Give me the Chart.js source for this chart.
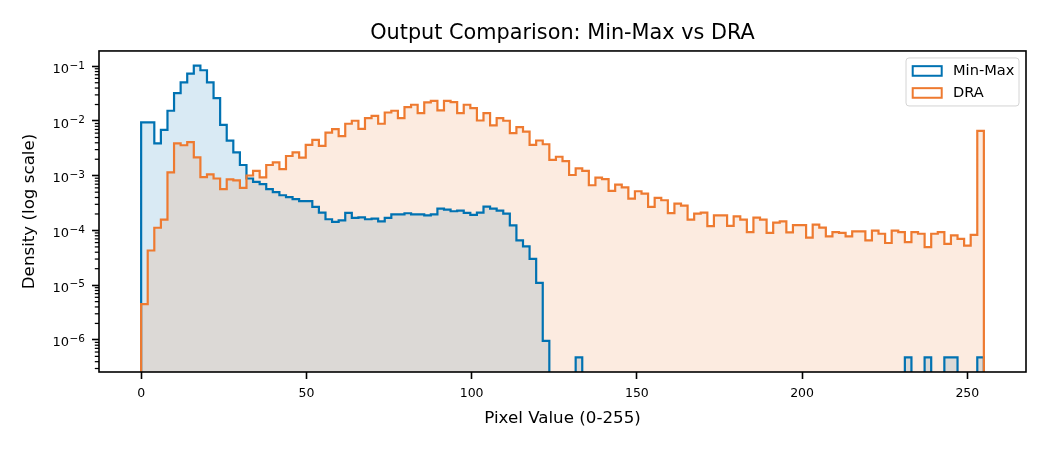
<!DOCTYPE html>
<html>
<head>
<meta charset="utf-8">
<script src="https://cdn.jsdelivr.net/npm/chart.js@4.4.1/dist/chart.umd.min.js"></script>
<style>
html, body { margin: 0; padding: 0; background: #ffffff; }
#wrap { width: 1050px; height: 450px; }
</style>
</head>
<body>
<div id="wrap"><canvas id="c" width="1050" height="450"></canvas></div>
<script>
// ---------------- data ----------------
const binCount = 128;          // histogram bins over the pixel range
const pixelMax = 255;          // range 0..255
const seriesLabels = ['Min-Max', 'DRA'];
const xTickValues = [0, 50, 100, 150, 200, 250];
const yTickExponents = [-6, -5, -4, -3, -2, -1];

// density per bin, Min-Max output
const minMaxDensity = [
  9.4e-3, 9.4e-3, 3.9e-3, 6.9e-3, 1.54e-2, 3.24e-2, 5.09e-2, 7.34e-2, 1.03e-1, 8.46e-2,
  5.09e-2, 2.62e-2, 8.5e-3, 4.38e-3, 2.68e-3, 1.57e-3, 8.9e-4, 7.7e-4, 7.0e-4, 5.7e-4,
  5.0e-4, 4.4e-4, 4.05e-4, 3.72e-4, 3.42e-4, 3.42e-4, 2.69e-4, 2.12e-4, 1.6e-4, 1.43e-4,
  1.53e-4, 2.09e-4, 1.69e-4, 1.74e-4, 1.6e-4, 1.64e-4, 1.47e-4, 1.69e-4, 1.97e-4, 1.97e-4,
  2.06e-4, 1.97e-4, 1.97e-4, 1.89e-4, 1.97e-4, 2.51e-4, 2.40e-4, 2.24e-4, 2.31e-4, 2.09e-4,
  1.92e-4, 2.12e-4, 2.73e-4, 2.51e-4, 2.31e-4, 2.03e-4, 1.24e-4, 6.6e-5, 5.1e-5, 3.03e-5,
  1.1e-5, 9.57e-7, 0, 0, 0, 0, 4.79e-7, 0, 0, 0,
  0, 0, 0, 0, 0, 0, 0, 0, 0, 0,
  0, 0, 0, 0, 0, 0, 0, 0, 0, 0,
  0, 0, 0, 0, 0, 0, 0, 0, 0, 0,
  0, 0, 0, 0, 0, 0, 0, 0, 0, 0,
  0, 0, 0, 0, 0, 0, 4.79e-7, 0, 0, 4.79e-7,
  0, 0, 4.79e-7, 4.79e-7, 0, 0, 0, 4.79e-7
];

// density per bin, DRA output
const draDensity = [
  4.5e-6, 4.3e-5, 1.12e-4, 1.57e-4, 1.15e-3, 3.9e-3, 3.6e-3, 4.1e-3, 2.17e-3, 9.4e-4,
  1.06e-3, 8.9e-4, 5.7e-4, 8.6e-4, 8.2e-4, 6.0e-4, 1.01e-3, 1.23e-3, 9.3e-4, 1.57e-3,
  1.75e-3, 1.32e-3, 2.29e-3, 2.68e-3, 2.14e-3, 3.65e-3, 4.5e-3, 3.5e-3, 6.15e-3, 7.1e-3,
  5.3e-3, 8.9e-3, 1.01e-2, 7.2e-3, 1.13e-2, 1.24e-2, 8.9e-3, 1.43e-2, 1.54e-2, 1.13e-2,
  1.79e-2, 1.98e-2, 1.39e-2, 2.19e-2, 2.34e-2, 1.56e-2, 2.34e-2, 2.22e-2, 1.39e-2, 1.98e-2,
  1.72e-2, 1.02e-2, 1.39e-2, 8.3e-3, 1.13e-2, 1.01e-2, 6.0e-3, 7.7e-3, 6.4e-3, 3.65e-3,
  4.4e-3, 3.76e-3, 1.94e-3, 2.22e-3, 1.85e-3, 1.03e-3, 1.36e-3, 1.23e-3, 6.7e-4, 9.2e-4,
  8.7e-4, 5.3e-4, 6.9e-4, 6.1e-4, 3.83e-4, 5.2e-4, 4.7e-4, 2.69e-4, 3.94e-4, 3.56e-4,
  2.08e-4, 3.10e-4, 2.83e-4, 1.58e-4, 2.03e-4, 2.12e-4, 1.20e-4, 1.88e-4, 1.88e-4, 1.21e-4,
  1.80e-4, 1.58e-4, 9.3e-5, 1.71e-4, 1.57e-4, 9.0e-5, 1.39e-4, 1.46e-4, 9.2e-5, 1.25e-4,
  1.25e-4, 7.4e-5, 1.28e-4, 1.13e-4, 7.8e-5, 9.3e-5, 9.0e-5, 7.8e-5, 9.6e-5, 9.6e-5,
  6.6e-5, 9.9e-5, 8.7e-5, 5.9e-5, 9.9e-5, 9.3e-5, 6.1e-5, 9.3e-5, 8.7e-5, 4.96e-5,
  8.7e-5, 9.3e-5, 5.7e-5, 8.1e-5, 7.0e-5, 5.3e-5, 8.3e-5, 6.6e-3
];

// ---------------- styling ----------------
const BLUE = '#0072B2';
const ORANGE = '#EE7A30';
const BLUE_FILL = 'rgba(0,114,178,0.15)';
const ORANGE_FILL = 'rgba(238,122,48,0.15)';
const FONT = 'DejaVu Sans';

Chart.defaults.font.family = FONT;
Chart.defaults.color = '#000000';

// step outline points built from the bin values (bin edges from the range)
const edges = Array.from({length: binCount + 1}, (_, k) => k * pixelMax / binCount);
const FLOOR = 1e-12; // empty bins fall below the axis, like log(0)
function stepPoints(vals) {
  const pts = [{x: edges[0], y: FLOOR}];
  vals.forEach((v, k) => pts.push({x: edges[k], y: v > 0 ? v : FLOOR}));
  const last = vals[vals.length - 1];
  pts.push({x: edges[binCount], y: last > 0 ? last : FLOOR});
  pts.push({x: edges[binCount], y: FLOOR});
  return pts;
}

// frame (all four spines), minor log ticks, y tick labels with superscripts, legend
const decorPlugin = {
  id: 'decor',
  afterDraw(chart) {
    const {ctx, chartArea: a} = chart;
    const ys = chart.scales.y;
    ctx.save();
    // minor ticks on the log axis
    ctx.strokeStyle = '#000';
    ctx.lineWidth = 1.25;
    for (let e = -8; e <= 0; e++) {
      for (let m = 2; m <= 9; m++) {
        const v = m * Math.pow(10, e);
        if (v < ys.min || v > ys.max) continue;
        const py = ys.getPixelForValue(v);
        ctx.beginPath();
        ctx.moveTo(a.left - 4.2, py);
        ctx.lineTo(a.left, py);
        ctx.stroke();
      }
    }
    // y tick labels: 10 with a raised exponent
    ctx.fillStyle = '#000';
    ctx.textAlign = 'right';
    ctx.textBaseline = 'alphabetic';
    yTickExponents.forEach(ex => {
      const py = ys.getPixelForValue(Math.pow(10, ex));
      const right = a.left - 14;
      const expText = '\u2212' + String(Math.abs(ex));
      ctx.font = '10.5px "' + FONT + '"';
      const ew = ctx.measureText(expText).width;
      ctx.fillText(expText, right, py + 2.3);
      ctx.font = '13px "' + FONT + '"';
      ctx.fillText('10', right - ew - 0.5, py + 6.6);
    });
    // spines
    ctx.lineWidth = 1.6;
    ctx.strokeStyle = '#000';
    ctx.strokeRect(a.left, a.top, a.right - a.left, a.bottom - a.top);

    // legend (upper right, inside axes)
    const bx = a.right - 7 - 113, by = a.top + 7, bw = 113, bh = 48;
    ctx.beginPath();
    ctx.roundRect(bx, by, bw, bh, 3);
    ctx.fillStyle = 'rgba(255,255,255,0.8)';
    ctx.fill();
    ctx.lineWidth = 1;
    ctx.strokeStyle = '#d4d4d4';
    ctx.stroke();
    const colors = [BLUE, ORANGE];
    ctx.font = '14.6px "' + FONT + '"';
    ctx.textBaseline = 'middle';
    ctx.textAlign = 'left';
    seriesLabels.forEach((lab, i) => {
      const cy = by + 13 + i * 22;
      ctx.lineWidth = 2;
      ctx.strokeStyle = colors[i];
      ctx.strokeRect(bx + 6.7, cy - 4.8, 29, 9.6);
      ctx.fillStyle = '#000';
      ctx.fillText(lab, bx + 47, cy + 0.5);
    });
    ctx.restore();
  }
};

const tickFont = {family: FONT, size: 12.5};
const gridOpts = {drawOnChartArea: false, drawTicks: true, tickLength: 7, tickWidth: 1.6, tickColor: '#000'};

new Chart(document.getElementById('c'), {
  type: 'line',
  data: {
    datasets: [
      {label: seriesLabels[0] + ' fill', data: stepPoints(minMaxDensity), stepped: 'before',
       borderColor: 'rgba(0,0,0,0)', borderWidth: 0, backgroundColor: BLUE_FILL, fill: 'start',
       pointRadius: 0, order: 4, clip: 0},
      {label: seriesLabels[1] + ' fill', data: stepPoints(draDensity), stepped: 'before',
       borderColor: 'rgba(0,0,0,0)', borderWidth: 0, backgroundColor: ORANGE_FILL, fill: 'start',
       pointRadius: 0, order: 3, clip: 0},
      {label: seriesLabels[0], data: stepPoints(minMaxDensity), stepped: 'before',
       borderColor: BLUE, borderWidth: 2.2, fill: false, pointRadius: 0, order: 2, clip: 0},
      {label: seriesLabels[1], data: stepPoints(draDensity), stepped: 'before',
       borderColor: ORANGE, borderWidth: 2.2, fill: false, pointRadius: 0, order: 1, clip: 0}
    ]
  },
  options: {
    responsive: false,
    devicePixelRatio: 1,
    animation: false,
    events: [],
    layout: {padding: {left: 0, right: 24, top: 0, bottom: 0}},
    plugins: {
      legend: {display: false},
      tooltip: {enabled: false},
      title: {
        display: true,
        text: 'Output Comparison: Min-Max vs DRA',
        font: {family: FONT, size: 20.8, weight: 'normal'},
        color: '#000',
        fullSize: false,
        padding: {top: 21, bottom: 5}
      }
    },
    scales: {
      x: {
        type: 'linear',
        min: -12.75,
        max: 267.75,
        afterBuildTicks: s => { s.ticks = xTickValues.map(v => ({value: v})); },
        afterFit: s => { s.height = 78; },
        ticks: {font: tickFont, color: '#000', padding: 7, maxRotation: 0, autoSkip: false,
                callback: v => String(v)},
        grid: gridOpts,
        border: {display: false},
        title: {display: true, text: 'Pixel Value (0-255)', color: '#000',
                font: {family: FONT, size: 16.7}, padding: {top: 0, bottom: 21}}
      },
      y: {
        type: 'logarithmic',
        min: 2.59e-7,
        max: 0.1904,
        afterBuildTicks: s => { s.ticks = yTickExponents.map(e => ({value: Math.pow(10, e)})); },
        afterFit: s => { s.width = 99; },
        ticks: {font: tickFont, color: 'rgba(0,0,0,0)', padding: 7, autoSkip: false,
                callback: () => ''},
        grid: gridOpts,
        border: {display: false},
        title: {display: true, text: 'Density (log scale)', color: '#000',
                font: {family: FONT, size: 16.7}, padding: {top: 20, bottom: 0}}
      }
    }
  },
  plugins: [decorPlugin]
});
</script>
</body>
</html>
